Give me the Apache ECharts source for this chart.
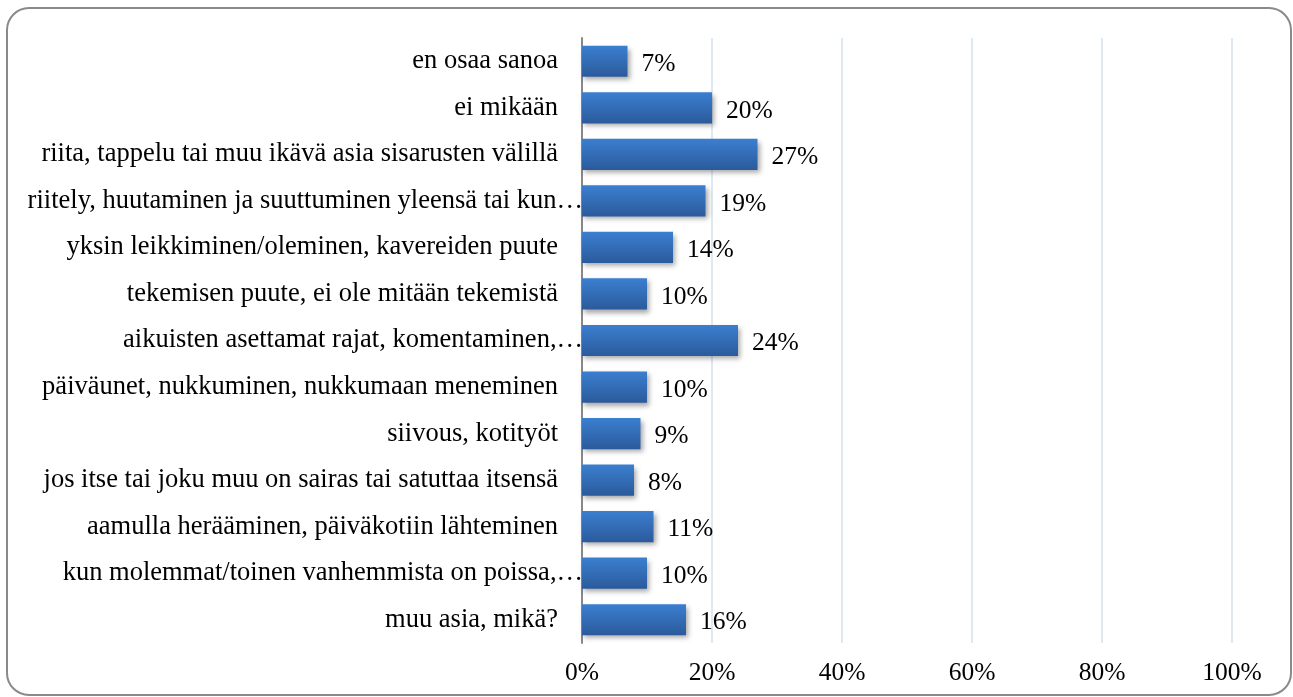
<!DOCTYPE html>
<html>
<head>
<meta charset="utf-8">
<script src="https://cdn.jsdelivr.net/npm/echarts@6/dist/echarts.min.js"></script>
<style>
html,body{margin:0;padding:0;background:#fff;}
#chart{width:1293px;height:697px;}
</style>
</head>
<body>
<div id="chart"></div>
<script>
const categories = [
  "en osaa sanoa",
  "ei mikään",
  "riita, tappelu tai muu ikävä asia sisarusten välillä",
  "riitely, huutaminen ja suuttuminen yleensä tai kun…",
  "yksin leikkiminen/oleminen, kavereiden puute",
  "tekemisen puute, ei ole mitään tekemistä",
  "aikuisten asettamat rajat, komentaminen,…",
  "päiväunet, nukkuminen, nukkumaan meneminen",
  "siivous, kotityöt",
  "jos itse tai joku muu on sairas tai satuttaa itsensä",
  "aamulla herääminen, päiväkotiin lähteminen",
  "kun molemmat/toinen vanhemmista on poissa,…",
  "muu asia, mikä?"
];
const values = [7, 20, 27, 19, 14, 10, 24, 10, 9, 8, 11, 10, 16];
const axisTicks = [0, 20, 40, 60, 80, 100];

const chart = echarts.init(document.getElementById('chart'), null, {renderer: 'canvas'});
const font = '"Liberation Serif", "Times New Roman", serif';
const catData = categories.map(c => c.endsWith('…')
  ? {value: c, textStyle: {padding: [4, -25, 0, 0]}}
  : c);
chart.setOption({
  animation: false,
  graphic: [{
    type: 'rect',
    shape: {x: 7, y: 8, width: 1284, height: 687, r: 22},
    style: {fill: null, stroke: '#8a8a8a', lineWidth: 2},
    silent: true
  }],
  grid: {left: 582, right: 61, top: 38, bottom: 54, containLabel: false},
  xAxis: {
    type: 'value',
    min: axisTicks[0],
    max: axisTicks[axisTicks.length - 1],
    interval: 20,
    axisLine: {show: false},
    axisTick: {show: false},
    splitLine: {show: true, lineStyle: {color: '#d6e0ee', width: 1.5}},
    axisLabel: {
      formatter: v => v + '%',
      color: '#000',
      fontFamily: font,
      fontSize: 25.5,
      margin: 17
    }
  },
  yAxis: {
    type: 'category',
    data: catData,
    inverse: true,
    axisLine: {show: true, lineStyle: {color: '#888888', width: 2}},
    axisTick: {show: false},
    axisLabel: {
      color: '#000',
      fontFamily: font,
      fontSize: 26.5,
      margin: 24,
      padding: [4, 0, 0, 0]
    }
  },
  series: [{
    type: 'bar',
    data: values,
    barWidth: '67%',
    itemStyle: {
      color: new echarts.graphic.LinearGradient(0, 0, 0, 1, [
        {offset: 0, color: '#3b7fd0'},
        {offset: 1, color: '#2b5a9b'}
      ]),
      shadowColor: 'rgba(0,0,0,0.35)',
      shadowBlur: 5,
      shadowOffsetX: 2,
      shadowOffsetY: 3
    },
    label: {
      show: true,
      position: 'right',
      distance: 14,
      formatter: p => p.value + '%',
      color: '#000',
      fontFamily: font,
      fontSize: 25.5,
      offset: [0, 3]
    }
  }]
});
</script>
</body>
</html>
